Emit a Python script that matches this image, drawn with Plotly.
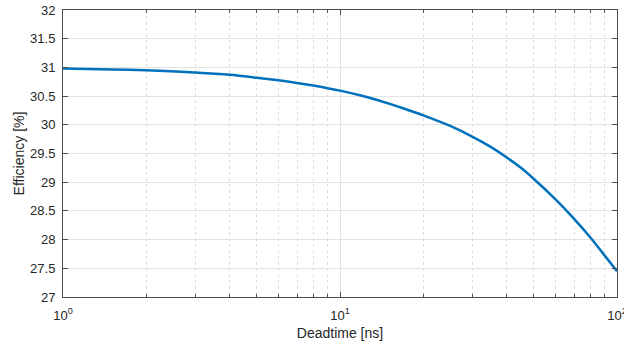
import plotly.graph_objects as go

deadtime_ns = [1, 1.5, 2, 3, 4, 5, 6, 7, 8, 10, 12, 14, 17, 20, 25, 30, 35, 40, 45, 50, 60, 70, 80, 90, 100]
efficiency_pct = [30.98, 30.965, 30.95, 30.91, 30.87, 30.82, 30.775, 30.73, 30.685, 30.595, 30.505, 30.415,
                  30.285, 30.165, 29.98, 29.795, 29.615, 29.43, 29.25, 29.06, 28.70, 28.36, 28.04, 27.73, 27.45]

x_tickvals = [1, 10, 100]
x_ticktext = ["10<sup>0</sup>", "10<sup>1</sup>", "10<sup>2</sup>"]
x_minor_vals = [2, 3, 4, 5, 6, 7, 8, 9, 20, 30, 40, 50, 60, 70, 80, 90]
y_tickvals = [27, 27.5, 28, 28.5, 29, 29.5, 30, 30.5, 31, 31.5, 32]
y_ticktext = ["27", "27.5", "28", "28.5", "29", "29.5", "30", "30.5", "31", "31.5", "32"]

axis_color = "#4d4d4d"
text_color = "#262626"
grid_color = "#e3e3e3"
minor_grid_color = "#dedede"

fig = go.Figure()
fig.add_trace(go.Scatter(x=deadtime_ns, y=efficiency_pct, mode="lines",
                         line=dict(color="#0072BD", width=2.5, shape="spline", smoothing=0.5),
                         showlegend=False))

fig.update_layout(
    width=624, height=347,
    margin=dict(l=63, r=7, t=10, b=50, autoexpand=False),
    paper_bgcolor="white", plot_bgcolor="white",
    font=dict(family="Liberation Sans, Arial, sans-serif", size=13, color=text_color),
)

fig.update_xaxes(
    type="log", range=[0, 2],
    tickmode="array", tickvals=x_tickvals, ticktext=x_ticktext,
    ticks="inside", ticklen=5, tickcolor=axis_color, tickwidth=1,
    showline=True, linecolor=axis_color, linewidth=1, mirror="allticks",
    showgrid=True, gridcolor=grid_color, gridwidth=1,
    minor=dict(tickmode="array", tickvals=x_minor_vals, ticks="inside", ticklen=3,
               tickcolor=axis_color, showgrid=True,
               gridcolor=minor_grid_color, griddash="dot", gridwidth=1),
    zeroline=False,
    automargin=False,
    ticklabelstandoff=6,
    ticklabeloverflow="allow",
    tickfont=dict(size=13, color=text_color),
    title=dict(text="Deadtime [ns]", font=dict(size=14, color=text_color), standoff=6),
)

fig.update_yaxes(
    range=[27, 32],
    tickmode="array", tickvals=y_tickvals, ticktext=y_ticktext,
    ticks="inside", ticklen=5, tickcolor=axis_color, tickwidth=1,
    showline=True, linecolor=axis_color, linewidth=1, mirror="allticks",
    showgrid=True, gridcolor=grid_color, gridwidth=1,
    zeroline=False,
    automargin=False,
    ticklabelstandoff=4,
    tickfont=dict(size=13, color=text_color),
    title=dict(text="Efficiency [%]", font=dict(size=14, color=text_color), standoff=2),
)

fig.write_html("out.html")
